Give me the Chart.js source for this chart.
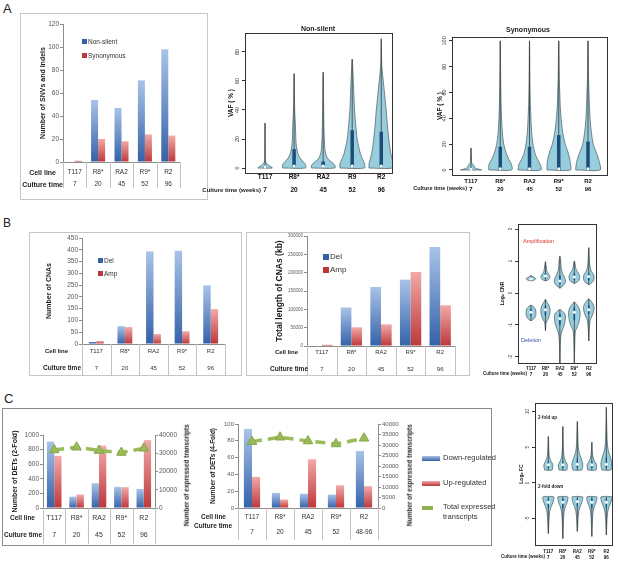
<!DOCTYPE html>
<html>
<head>
<meta charset="utf-8">
<script src="https://cdn.jsdelivr.net/npm/chart.js@4.4.0/dist/chart.umd.min.js"></script>
<style>
  body { margin: 0; width: 618px; height: 564px; background: #fff; position: relative; overflow: hidden;
         font-family: "Liberation Sans", Arial, sans-serif; color: #222; }
  .t { position: absolute; white-space: nowrap; line-height: 1; }
  .frame { position: absolute; box-sizing: border-box; }
  .sw { position: absolute; }
</style>
</head>
<body>

<div class="frame" style="left:20px;top:13px;width:188px;height:187px;border:1px solid #c6c6c6"></div>
<div class="frame" style="left:29px;top:232px;width:213px;height:144px;border:1px solid #c6c6c6"></div>
<div class="frame" style="left:246px;top:232px;width:224px;height:144px;border:1px solid #c6c6c6"></div>
<div class="frame" style="left:2px;top:408px;width:490px;height:138px;border:1.5px solid #8a8a8a"></div>

<script>
// categories
const cellLines = ['T117', 'R8*', 'RA2', 'R9*', 'R2'];
const cellLinesNs = ['T117', 'R8*', 'RA2', 'R9', 'R2'];
const cultureWeeks = ['7', '20', '45', '52', '96'];
const cultureWeeksC2 = ['7', '20', '45', '52', '48-96'];

// A: SNVs and indels
const snvNonSilent = [0, 54, 47, 71, 98];
const snvSynonymous = [1, 20, 18, 24, 23];

// A: VAF violins, non-silent (levels in %, half widths in category units)
const nsY = [
  [0, 1, 2, 3, 4, 6, 31],
  [0, 2, 4, 7, 10, 15, 20, 30, 40, 50, 65],
  [0, 2, 4, 6, 9, 13, 20, 30, 45, 66],
  [0, 3, 6, 10, 15, 20, 30, 40, 55, 64, 75],
  [0, 3, 6, 10, 15, 20, 30, 40, 50, 60, 70, 89]
];
const nsW = [
  [0.25, 0.2, 0.12, 0.06, 0.03, 0.01, 0],
  [0.39, 0.4, 0.33, 0.2, 0.13, 0.08, 0.06, 0.045, 0.02, 0.01, 0],
  [0.4, 0.4, 0.3, 0.18, 0.1, 0.06, 0.04, 0.025, 0.015, 0],
  [0.42, 0.42, 0.36, 0.28, 0.22, 0.17, 0.12, 0.08, 0.05, 0.03, 0],
  [0.42, 0.42, 0.38, 0.33, 0.29, 0.26, 0.21, 0.17, 0.12, 0.07, 0.02, 0]
];
const nsIqr = [[0.3, 1.2], [1, 13], [1.5, 4.5], [1, 26], [1, 25]];
const nsMed = [0.8, 1.5, 1.5, 1.5, 1.5];
const nsTicks = [0, 20, 40, 60, 80];

// A: VAF violins, synonymous
const synY = [
  [0, 1, 2, 3, 4, 5, 6, 17],
  [0, 4, 8, 12, 20, 30, 40, 50, 70, 100],
  [0, 4, 8, 12, 20, 30, 40, 50, 70, 100],
  [0, 5, 10, 15, 20, 30, 40, 50, 60, 70, 100],
  [0, 5, 10, 15, 20, 30, 40, 50, 60, 70, 100]
];
const synW = [
  [0.36, 0.2, 0.12, 0.1, 0.08, 0.04, 0.02, 0],
  [0.39, 0.39, 0.3, 0.22, 0.12, 0.07, 0.045, 0.03, 0.015, 0],
  [0.39, 0.37, 0.28, 0.2, 0.12, 0.07, 0.05, 0.03, 0.015, 0],
  [0.4, 0.4, 0.36, 0.3, 0.22, 0.13, 0.08, 0.05, 0.035, 0.02, 0],
  [0.42, 0.4, 0.34, 0.26, 0.18, 0.11, 0.07, 0.05, 0.035, 0.02, 0]
];
const synIqr = [[0, 1], [0, 18], [0, 18], [0, 27], [0, 22]];
const synMed = [0.5, 1, 1, 1, 1];
const synTicks = [0, 20, 40, 60, 80, 100];

// B: CNAs
const cnaDel = [8, 76, 393, 396, 249];
const cnaAmp = [13, 72, 42, 54, 148];
const cnaLenDel = [0, 105000, 161000, 181000, 270000];
const cnaLenAmp = [3000, 51000, 59000, 202000, 111000];

// B: log CNR violins
const ampY = [
  [0.38, 0.41, 0.45, 0.49, 0.52, 0.55],
  [0.38, 0.42, 0.48, 0.54, 0.6, 0.66, 0.75, 0.85, 0.98],
  [0.15, 0.22, 0.3, 0.38, 0.48, 0.6, 0.75, 0.9, 1.05, 1.15],
  [0.3, 0.36, 0.44, 0.52, 0.62, 0.72, 0.82, 0.92, 1.0],
  [0.26, 0.32, 0.4, 0.5, 0.6, 0.7, 0.85, 1.0, 1.2, 1.42]
];
const ampW = [
  [0, 0.25, 0.33, 0.22, 0.08, 0],
  [0, 0.22, 0.3, 0.3, 0.22, 0.12, 0.08, 0.05, 0],
  [0, 0.2, 0.34, 0.39, 0.33, 0.2, 0.1, 0.07, 0.05, 0],
  [0, 0.25, 0.35, 0.37, 0.28, 0.14, 0.08, 0.05, 0],
  [0, 0.22, 0.34, 0.37, 0.3, 0.16, 0.08, 0.05, 0.03, 0]
];
const ampIqr = [[0.42, 0.47], [0.45, 0.62], [0.28, 0.55], [0.4, 0.62], [0.4, 0.62]];
const ampMed = [0.44, 0.53, 0.38, 0.5, 0.52];
const delY = [
  [-0.87, -0.8, -0.7, -0.6, -0.5, -0.42, -0.38],
  [-1.18, -0.95, -0.88, -0.78, -0.65, -0.52, -0.4, -0.3, -0.2],
  [-2.2, -1.6, -1.3, -1.15, -1.0, -0.85, -0.7, -0.6, -0.52],
  [-2.2, -1.6, -1.2, -1.08, -0.95, -0.8, -0.6, -0.45, -0.35, -0.28],
  [-1.5, -1.1, -0.85, -0.75, -0.6, -0.45, -0.35, -0.25, -0.18]
];
const delW = [
  [0, 0.22, 0.33, 0.34, 0.3, 0.15, 0],
  [0, 0.04, 0.1, 0.22, 0.3, 0.32, 0.26, 0.12, 0],
  [0, 0.03, 0.08, 0.18, 0.3, 0.37, 0.38, 0.25, 0],
  [0, 0.03, 0.07, 0.18, 0.3, 0.37, 0.4, 0.3, 0.14, 0],
  [0, 0.04, 0.1, 0.2, 0.32, 0.37, 0.3, 0.15, 0]
];
const delIqr = [[-0.7, -0.5], [-0.7, -0.4], [-1.0, -0.65], [-0.85, -0.45], [-0.65, -0.38]];
const delMed = [-0.6, -0.52, -0.8, -0.6, -0.52];
const cnrTicks = [-2, -1, 0, 1, 2];

// C: differentially expressed transcripts
const det2Down = [910, 155, 340, 290, 260];
const det2Up = [715, 185, 855, 285, 930];
const det2Total = [31800, 33300, 31500, 30400, 32700];
const det4Down = [94, 18, 17, 16, 68];
const det4Up = [37, 10, 58, 27, 26];
const det4Total = [31600, 33700, 31900, 30500, 33200];

// C: log FC violins
const upY = [
  [1.8, 2.2, 2.6, 3.0, 3.5, 4.0, 5.0, 6.5],
  [1.8, 2.2, 2.6, 3.0, 3.5, 4.0, 5.0, 6.0, 7.9],
  [1.8, 2.2, 2.7, 3.2, 3.8, 4.5, 5.5, 7.0, 8.6],
  [1.8, 2.2, 2.6, 3.0, 3.5, 4.2, 5.7],
  [1.8, 2.3, 2.8, 3.2, 3.8, 4.5, 5.5, 7.0, 8.5, 10.6]
];
const upW = [
  [0.25, 0.3, 0.3, 0.2, 0.1, 0.05, 0.03, 0],
  [0.26, 0.3, 0.3, 0.2, 0.1, 0.06, 0.03, 0.02, 0],
  [0.3, 0.36, 0.37, 0.3, 0.2, 0.1, 0.05, 0.03, 0],
  [0.28, 0.32, 0.32, 0.2, 0.1, 0.04, 0],
  [0.3, 0.36, 0.37, 0.33, 0.25, 0.14, 0.07, 0.04, 0.02, 0]
];
const upIqr = [[2.1, 3.0], [2.1, 3.0], [2.1, 3.4], [2.1, 3.0], [2.1, 3.6]];
const upMed = [2.55, 2.55, 2.6, 2.55, 2.6];
const downY = [
  [-7.1, -6.0, -5.0, -4.0, -3.3, -2.8, -2.3, -1.95],
  [-7.8, -6.0, -5.0, -4.0, -3.3, -2.8, -2.3, -1.95],
  [-6.8, -6.0, -5.0, -4.0, -3.3, -2.8, -2.3, -1.95],
  [-7.5, -6.0, -5.0, -4.0, -3.3, -2.8, -2.3, -1.95],
  [-7.3, -6.0, -5.0, -4.0, -3.3, -2.8, -2.3, -1.95]
];
const downW = [
  [0, 0.03, 0.05, 0.1, 0.2, 0.3, 0.37, 0.37],
  [0, 0.03, 0.05, 0.09, 0.18, 0.28, 0.34, 0.34],
  [0, 0.03, 0.05, 0.1, 0.2, 0.3, 0.36, 0.36],
  [0, 0.03, 0.05, 0.09, 0.18, 0.28, 0.34, 0.34],
  [0, 0.03, 0.05, 0.1, 0.2, 0.3, 0.37, 0.37]
];
const downIqr = [[-3.5, -2.2], [-3.5, -2.2], [-3.3, -2.2], [-3.5, -2.2], [-3.5, -2.2]];
const downMed = [-2.7, -2.7, -2.6, -2.7, -2.7];
const fcTicks = [-5, 0, 5, 10];

Chart.defaults.font.family = '"Liberation Sans", Arial, sans-serif';
Chart.defaults.animation = false;
Chart.defaults.plugins.legend.display = false;
Chart.defaults.plugins.tooltip.enabled = false;

const blueL = '#a9c3e8', blueD = '#3461a8', redL = '#f1aaa8', redD = '#bd373a';
const vioFill = '#97cddc', vioLine = '#4b5a60';

function mount(x, y, w, h) {
  const d = document.createElement('div');
  d.style.cssText = `position:absolute;left:${x}px;top:${y}px;width:${w}px;height:${h}px;`;
  const c = document.createElement('canvas');
  d.appendChild(c);
  document.body.appendChild(d);
  return c;
}

function txt(s, x, y, size, o = {}) {
  const d = document.createElement('div');
  d.className = 't';
  d.textContent = s;
  d.style.fontSize = size + 'px';
  d.style.top = (y - size / 2) + 'px';
  if (o.align === 'r') d.style.right = (618 - x) + 'px';
  else d.style.left = x + 'px';
  if (o.align === 'c') d.style.transform = 'translateX(-50%)';
  if (o.rot) d.style.transform = 'translateX(-50%) rotate(-90deg)';
  if (o.bold) d.style.fontWeight = 'bold';
  if (o.color) d.style.color = o.color;
  document.body.appendChild(d);
}

function swatch(x, y, w, h, bg) {
  const d = document.createElement('div');
  d.className = 'sw';
  d.style.cssText += `left:${x}px;top:${y}px;width:${w}px;height:${h}px;background:${bg};`;
  document.body.appendChild(d);
}

// excel-like bar gradient, light at the top of each bar
function grad(light, dark) {
  return (c) => {
    const ch = c.chart;
    const ys = ch.scales[c.dataset.yAxisID || 'y'];
    if (!ys || c.raw == null) return dark;
    const top = ys.getPixelForValue(c.raw), bot = ys.getPixelForValue(0);
    if (!isFinite(top) || bot - top < 2) return dark;
    const g = ch.ctx.createLinearGradient(0, top, 0, bot);
    g.addColorStop(0, light);
    g.addColorStop(1, dark);
    return g;
  };
}

// vertical separators of the data table under the x axis
function tableLines(h) {
  return {
    id: 'tableLines',
    afterDraw(ch) {
      const xs = ch.scales.x, a = ch.chartArea, c = ch.ctx;
      const step = (a.right - a.left) / cellLines.length;
      c.save();
      c.strokeStyle = '#c3c3c3';
      c.lineWidth = 1;
      for (let k = 0; k <= cellLines.length; k++) {
        const x = Math.round(xs.getPixelForValue(k) - step / 2) + 0.5;
        c.beginPath();
        c.moveTo(x, a.bottom);
        c.lineTo(x, a.bottom + h);
        c.stroke();
      }
      c.restore();
    }
  };
}

const framePlugin = {
  id: 'rframe',
  afterDatasetsDraw(ch) {
    const a = ch.chartArea, c = ch.ctx;
    c.save();
    c.strokeStyle = '#333';
    c.lineWidth = 1;
    c.strokeRect(Math.round(a.left) + 0.5, Math.round(a.top) + 0.5, Math.round(a.width), Math.round(a.height));
    c.restore();
  }
};

// R style: y tick labels turned by 90 degrees
function rotTicks(size) {
  return {
    id: 'rotTicks',
    afterDraw(ch) {
      const s = ch.scales.y, c = ch.ctx, x = ch.chartArea.left - 3 - 1.5 - size / 2;
      c.save();
      c.fillStyle = '#333';
      c.font = `${size}px "Liberation Sans", Arial, sans-serif`;
      c.textAlign = 'center';
      c.textBaseline = 'middle';
      s.ticks.forEach((t) => {
        c.save();
        c.translate(x, s.getPixelForValue(t.value));
        c.rotate(-Math.PI / 2);
        c.fillText(String(t.value), 0, 0);
        c.restore();
      });
      c.restore();
    }
  };
}

function barChart(o) {
  const cv = mount(o.x, o.y, o.w, o.h);
  const [aL, aT, aR, aB] = o.area;
  const datasets = [
    { data: o.a, backgroundColor: grad(blueL, blueD), categoryPercentage: o.cat, barPercentage: 1, order: 2 },
    { data: o.b, backgroundColor: grad(redL, redD), categoryPercentage: o.cat, barPercentage: 1, order: 2 }
  ];
  const scales = {
    x: {
      grid: { display: false, drawTicks: false },
      border: { display: true, color: '#8c8c8c' },
      ticks: { color: '#333', font: { size: o.rowFont, lineHeight: o.rowH / o.rowFont }, padding: o.rowPad,
               maxRotation: 0, autoSkip: false },
      afterFit: (s) => { s.height = o.h - aB; }
    },
    y: {
      min: 0, max: o.yMax,
      ticks: { stepSize: o.yStep, color: '#595959', font: { size: o.tickFont }, padding: 1, callback: (v) => String(v) },
      grid: { drawOnChartArea: false, tickLength: 3, color: '#8c8c8c' },
      border: { color: '#8c8c8c' },
      title: { display: true, text: o.yTitle, color: '#1a1a1a', font: { size: o.titleFont, weight: 'bold' },
               padding: { top: o.titleX - o.titleFont * 0.6, bottom: 0 } },
      afterFit: (s) => { s.width = aL; }
    }
  };
  if (o.total) {
    datasets.push({ type: 'line', data: o.total, yAxisID: 'y2', borderColor: '#9bbb59', borderWidth: 3.5,
                    borderDash: [10, 6], pointStyle: 'triangle', pointRadius: 5.5, pointBackgroundColor: '#9bbb59',
                    pointBorderColor: '#86a64a', pointBorderWidth: 1, order: 0 });
    scales.y2 = {
      position: 'right', min: 0, max: 40000,
      ticks: { stepSize: 5000, color: '#595959', font: { size: o.tickFont }, padding: 1, callback: (v) => String(v) },
      grid: { drawOnChartArea: false, tickLength: 3, color: '#8c8c8c' },
      border: { color: '#8c8c8c' },
      afterFit: (s) => { s.width = o.w - aR; }
    };
  }
  new Chart(cv, {
    type: 'bar',
    data: { labels: cellLines.map((c, i) => [c, o.weeks[i]]), datasets },
    options: {
      responsive: true, maintainAspectRatio: false, devicePixelRatio: 1,
      layout: { padding: { left: 0, top: aT, right: o.total ? 0 : o.w - aR, bottom: 0 } },
      scales
    },
    plugins: [tableLines(o.tableH)]
  });
}

function violinSets(ys, ws, x, iqr, med, st) {
  const pts = ys.map((y, k) => ({ x: x - ws[k], y }));
  for (let k = ys.length - 1; k >= 0; k--) {
    if (ws[k] > 0) pts.push({ x: x + ws[k], y: ys[k] });
  }
  pts.push(pts[0]);
  return [
    { data: pts, showLine: true, fill: 'shape', backgroundColor: vioFill, borderColor: vioLine,
      borderWidth: 0.7, pointRadius: 0, tension: 0.3, order: 3 },
    { data: [{ x, y: ys[0] }, { x, y: ys[ys.length - 1] }], showLine: true, borderColor: '#3a3a3a',
      borderWidth: 0.8, pointRadius: 0, order: 2 },
    { data: [{ x, y: iqr[0] }, { x, y: iqr[1] }], showLine: true, borderColor: '#1d4c78',
      borderWidth: st.iqrW, pointRadius: 0, order: 1 },
    { data: [{ x, y: med }], pointRadius: st.medR, pointBackgroundColor: '#fff', pointBorderWidth: 0, order: 0 }
  ];
}

function violinChart(o) {
  const cv = mount(o.x, o.y, o.w, o.h);
  const [aL, aT, aR, aB] = o.area;
  const datasets = [];
  o.groups.forEach((g) => {
    g.ys.forEach((ys, i) => {
      datasets.push(...violinSets(ys, g.ws[i], i + 1, g.iqr[i], g.med[i], o));
    });
  });
  new Chart(cv, {
    type: 'scatter',
    data: { datasets },
    options: {
      responsive: true, maintainAspectRatio: false, devicePixelRatio: 1,
      layout: { padding: { left: 0, top: aT, right: o.w - aR, bottom: 0 } },
      scales: {
        x: {
          type: 'linear', min: o.xMin, max: o.xMax,
          afterBuildTicks: (s) => { s.ticks = o.names.map((n, i) => ({ value: i + 1 })); },
          ticks: { color: '#111', font: { size: o.rowFont, weight: 'bold', lineHeight: o.rowH / o.rowFont },
                   padding: o.rowPad, maxRotation: 0, autoSkip: false,
                   callback: (v) => [o.names[v - 1], o.weeks[v - 1]] },
          grid: { display: false, drawTicks: false },
          border: { display: false },
          afterFit: (s) => { s.height = o.h - aB; }
        },
        y: {
          min: o.yMin, max: o.yMax,
          afterBuildTicks: (s) => { s.ticks = o.yTicks.map((v) => ({ value: v })); },
          ticks: { display: false },
          grid: { drawOnChartArea: false, tickLength: 3, color: '#333' },
          border: { display: false },
          title: { display: true, text: o.yTitle, color: '#111', font: { size: o.titleFont, weight: 'bold' },
                   padding: { top: o.titleX - o.titleFont * 0.6, bottom: 0 } },
          afterFit: (s) => { s.width = aL; }
        }
      }
    },
    plugins: [framePlugin, rotTicks(o.tickFont)]
  });
}

// ---------- A ----------
barChart({ x: 20, y: 13, w: 188, h: 187, area: [43, 11, 160, 149], a: snvNonSilent, b: snvSynonymous,
  weeks: cultureWeeks, yMax: 120, yStep: 20, tickFont: 6.5, titleFont: 7, titleX: 23,
  yTitle: 'Number of SNVs and Indels', rowFont: 6.5, rowH: 12, rowPad: 4, cat: 0.6, tableH: 26 });

violinChart({ x: 205, y: 15, w: 205, h: 185, area: [40, 18, 187, 158], xMin: 0.31, xMax: 5.37,
  yMin: -3.4, yMax: 93, yTicks: nsTicks, names: cellLinesNs, weeks: cultureWeeks,
  groups: [{ ys: nsY, ws: nsW, iqr: nsIqr, med: nsMed }], iqrW: 3.5, medR: 1.5,
  tickFont: 5.5, titleFont: 6.5, titleX: 26, yTitle: 'VAF ( % )', rowFont: 6.5, rowH: 13, rowPad: -2.5 });

violinChart({ x: 415, y: 15, w: 203, h: 185, area: [37, 22, 192, 160], xMin: 0.35, xMax: 5.65,
  yMin: -3.9, yMax: 103, yTicks: synTicks, names: cellLines, weeks: cultureWeeks,
  groups: [{ ys: synY, ws: synW, iqr: synIqr, med: synMed }], iqrW: 3.5, medR: 1.5,
  tickFont: 5.5, titleFont: 6.5, titleX: 25, yTitle: 'VAF ( % )', rowFont: 6, rowH: 8, rowPad: 2 });

// ---------- B ----------
barChart({ x: 29, y: 232, w: 213, h: 144, area: [53, 6, 196, 112], a: cnaDel, b: cnaAmp,
  weeks: cultureWeeks, yMax: 450, yStep: 50, tickFont: 6.5, titleFont: 7, titleX: 20,
  yTitle: 'Number of CNAs', rowFont: 6, rowH: 17, rowPad: -1.5, cat: 0.52, tableH: 32 });

barChart({ x: 246, y: 232, w: 224, h: 144, area: [61, 4, 209, 114], a: cnaLenDel, b: cnaLenAmp,
  weeks: cultureWeeks, yMax: 300000, yStep: 50000, tickFont: 4.5, titleFont: 8.5, titleX: 34,
  yTitle: 'Total length of CNAs (kb)', rowFont: 6, rowH: 17, rowPad: -2.5, cat: 0.72, tableH: 30 });

violinChart({ x: 490, y: 215, w: 128, h: 165, area: [28, 9, 106, 148], xMin: 0.1, xMax: 5.5,
  yMin: -2.19, yMax: 2.16, yTicks: cnrTicks, names: cellLines, weeks: cultureWeeks,
  groups: [{ ys: ampY, ws: ampW, iqr: ampIqr, med: ampMed }, { ys: delY, ws: delW, iqr: delIqr, med: delMed }],
  iqrW: 1.5, medR: 1.5, tickFont: 4.5, titleFont: 5, titleX: 13, yTitle: 'Log\u2082 CNR',
  rowFont: 4.5, rowH: 5.5, rowPad: 3.2 });

// ---------- C ----------
barChart({ x: 3, y: 420, w: 200, h: 124, area: [40, 15, 152, 88], a: det2Down, b: det2Up, total: det2Total,
  weeks: cultureWeeks, yMax: 1000, yStep: 100, tickFont: 6.5, titleFont: 7, titleX: 12,
  yTitle: 'Number of DETs (2-Fold)', rowFont: 7, rowH: 17, rowPad: 1.5, cat: 0.65, tableH: 36 });

barChart({ x: 200, y: 415, w: 220, h: 129, area: [38, 9, 178, 93], a: det4Down, b: det4Up, total: det4Total,
  weeks: cultureWeeksC2, yMax: 100, yStep: 10, tickFont: 6, titleFont: 6.5, titleX: 13,
  yTitle: 'Number of DETs (4-Fold)', rowFont: 6.5, rowH: 15, rowPad: 1.5, cat: 0.58, tableH: 32 });

violinChart({ x: 515, y: 398, w: 103, h: 166, area: [20, 5, 97, 147], xMin: 0.08, xMax: 5.39,
  yMin: -8.7, yMax: 11.2, yTicks: fcTicks, names: cellLines, weeks: cultureWeeks,
  groups: [{ ys: upY, ws: upW, iqr: upIqr, med: upMed }, { ys: downY, ws: downW, iqr: downIqr, med: downMed }],
  iqrW: 1.2, medR: 1.5, tickFont: 4.5, titleFont: 5, titleX: 7, yTitle: 'Log\u2082 FC',
  rowFont: 4.5, rowH: 5.5, rowPad: 4.2 });

// ---------- text ----------
txt('A', 3, 8, 13);
txt('B', 3, 223, 12);
txt('C', 4, 398, 13);

// legends
swatch(82, 39, 5, 5, blueD); txt('Non-silent', 88, 42, 6.5, { color: '#333' });
swatch(82, 53, 5, 5, redD); txt('Synonymous', 88, 56, 6.5, { color: '#333' });
swatch(98, 258, 5, 5, blueD); txt('Del', 104, 261, 6.5, { color: '#333' });
swatch(98, 271, 5, 5, redD); txt('Amp', 104, 274, 6.5, { color: '#333' });
swatch(323, 254, 6, 6, blueD); txt('Del', 330, 257, 8, { color: '#333' });
swatch(323, 267, 6, 6, redD); txt('Amp', 330, 270, 8, { color: '#333' });
swatch(422, 456, 18, 5, `linear-gradient(${blueL}, ${blueD})`); txt('Down-regulated', 443, 458, 7.5, { color: '#333' });
swatch(422, 481, 18, 5, `linear-gradient(${redL}, ${redD})`); txt('Up-regulated', 443, 483, 7.5, { color: '#333' });
swatch(422, 506, 11, 3.5, '#8fb050'); txt('Total expressed', 443, 507, 7.5, { color: '#333' });
txt('transcripts', 443, 517, 7.5, { color: '#333' });

// table row labels
txt('Cell line', 56, 172, 7, { align: 'r', bold: true });
txt('Culture time', 63, 184, 7, { align: 'r', bold: true });
txt('Cell line', 68, 351, 6, { align: 'r', bold: true });
txt('Culture time', 81, 368, 6.5, { align: 'r', bold: true });
txt('Cell line', 298, 352, 6, { align: 'r', bold: true });
txt('Culture time', 308, 369, 6.5, { align: 'r', bold: true });
txt('Cell line', 35, 518, 6.5, { align: 'r', bold: true });
txt('Culture time', 42, 535, 6.5, { align: 'r', bold: true });
txt('Cell line', 226, 517, 6.5, { align: 'r', bold: true });
txt('Culture time', 232, 526, 6.5, { align: 'r', bold: true });

// violin titles and row labels
txt('Non-silent', 318, 28, 7, { align: 'c', bold: true });
txt('Synonymous', 528, 29, 7, { align: 'c', bold: true });
txt('Culture time (weeks)', 261, 190, 6, { align: 'r', bold: true });
txt('Culture time (weeks)', 467, 189, 5.5, { align: 'r', bold: true });
txt('Culture time (weeks)', 527, 374.5, 4.5, { align: 'r', bold: true });
txt('Culture time (weeks)', 545, 557.5, 4.5, { align: 'r', bold: true });
txt('Amplification', 523, 242, 5.5, { color: '#d8342c' });
txt('Deletion', 521, 341, 5.5, { color: '#3551a3' });
txt('2-fold up', 538, 418, 4.5, { bold: true });
txt('2-fold down', 538, 487, 4.5, { bold: true });

// right axis titles of C
txt('Number of expressed transcripts', 187, 475, 6.5, { rot: true, bold: true });
txt('Number of expressed transcripts', 410, 475, 6.5, { rot: true, bold: true });
</script>
</body>
</html>
